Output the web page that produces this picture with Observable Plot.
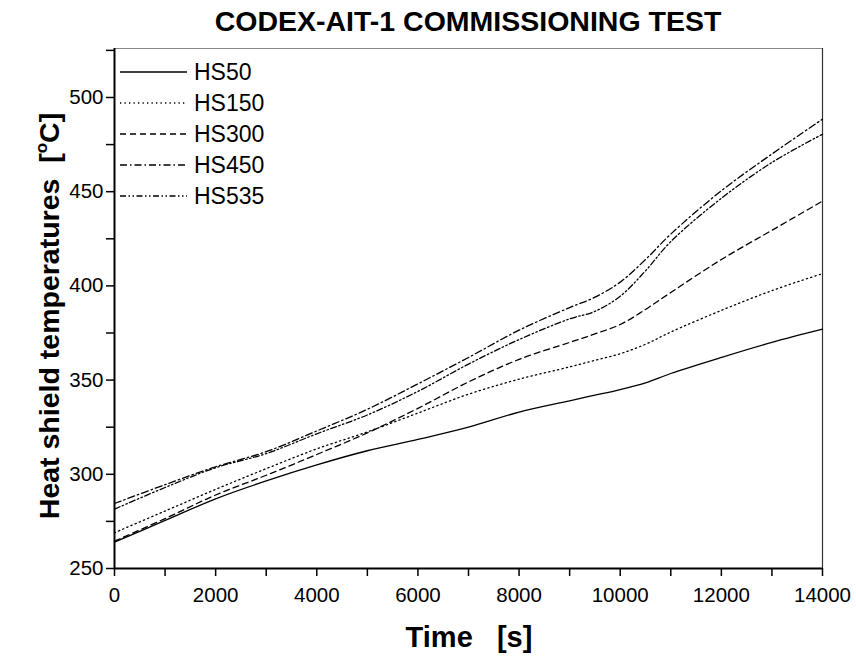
<!DOCTYPE html>
<html><head><meta charset="utf-8">
<script src="https://cdn.jsdelivr.net/npm/d3@7"></script>
<script src="https://cdn.jsdelivr.net/npm/@observablehq/plot@0.6"></script>
<style>
body{margin:0;background:#fff;font-family:"Liberation Sans",Arial,sans-serif;}
#title{width:708px;margin-left:114px;height:40px;line-height:42px;text-align:center;font-weight:bold;font-size:28.5px;color:#000;}
#chart svg{display:block;}
</style></head>
<body>
<div id="title">CODEX-AIT-1 COMMISSIONING TEST</div>
<div id="chart"></div>
<script>
const times = [0,1000,2000,3000,4000,5000,6000,7000,8000,9000,9500,10000,10500,11000,12000,13000,14000];
const seriesNames = ["HS50","HS150","HS300","HS450","HS535"];
const hs50  = [264,275.5,287,296.5,305,312.5,318.5,325,333,339,342,345,348.5,353.5,362,370,377];
const hs150 = [269,280.5,292,303,313.5,322.5,332.5,342.5,350.5,357,360.5,364,369,375.5,387,397.5,406.5];
const hs300 = [264.5,276.5,289,299.5,310.5,322,335,349,361,370,374.5,379.5,387.5,396.5,414,429.5,445];
const hs450 = [284.5,294.5,304,312,323,334.5,348,362,376.5,388.5,394,402,414,427.5,450.5,470,488.5];
const hs535 = [281.5,293,303.5,311,321.5,331.5,344,358.5,371.5,382.5,386.5,394.5,408,423.5,446.5,465.5,480.5];
const seriesValues = [hs50,hs150,hs300,hs450,hs535];
const dashes = ["none","1.3,3.2","6,4","7,3,1.5,3","6,2.5,1.5,2.5,1.5,2.5"];
const xTicks = d3.range(0,14001,1000);
const yTicks = d3.range(250,526,25);
const xDomain = [0,14000];
const yDomain = [250,526];

const rows = [];
seriesNames.forEach((name,i)=>times.forEach((t,j)=>rows.push({series:name,time:t,temp:seriesValues[i][j]})));

const lineMarks = seriesNames.map((name,i)=>Plot.line(rows.filter(r=>r.series===name),{
  x:"time",y:"temp",stroke:"#000",strokeWidth:1.3,strokeDasharray:dashes[i],curve:"catmull-rom"}));

const plot = Plot.plot({
  width:856,height:617,
  marginTop:8,marginLeft:114,marginRight:34,marginBottom:89,
  x:{domain:xDomain},
  y:{domain:yDomain},
  style:{fontFamily:'"Liberation Sans",Arial,sans-serif',fontSize:"20.5px",color:"#000",background:"#fff"},
  marks:[
    Plot.ruleY([yDomain[1]],{stroke:"#888",strokeWidth:1.2}),
    Plot.ruleX([xDomain[1]],{stroke:"#333",strokeWidth:1.2}),
    ...lineMarks,
    Plot.axisX({ticks:xTicks,tickSize:8,tickPadding:11,strokeWidth:1.5,label:null,tickFormat:d=>d%2000===0?String(d):""}),
    Plot.axisY({ticks:yTicks,tickSize:8,tickPadding:3,strokeWidth:1.5,label:null,tickFormat:d=>d%50===0?String(d):""}),
    Plot.ruleX([xDomain[0]],{stroke:"#000",strokeWidth:2}),
    Plot.ruleY([yDomain[0]],{stroke:"#000",strokeWidth:2})
  ]
});
document.getElementById("chart").appendChild(plot);

const svg = d3.select(plot);
// axis titles
svg.append("text").attr("x",469).attr("y",607).attr("text-anchor","middle")
  .attr("font-size",29).attr("font-weight","bold").attr("fill","#000")
  .attr("xml:space","preserve").text("Time   [s]");
const yl = svg.append("text").attr("transform","translate(59,276) rotate(-90)")
  .attr("text-anchor","middle").attr("font-size",28.5).attr("font-weight","bold").attr("fill","#000")
  .attr("xml:space","preserve");
yl.append("tspan").text("Heat shield temperatures  [");
yl.append("tspan").attr("font-size",17).attr("dy",-12).text("o");
yl.append("tspan").attr("dy",12).text("C]");
// legend
const lg = svg.append("g");
seriesNames.forEach((name,i)=>{
  const y = 32 + i*31;
  lg.append("line").attr("x1",120).attr("x2",187).attr("y1",y).attr("y2",y)
    .attr("stroke","#000").attr("stroke-width",1.3).attr("stroke-dasharray",dashes[i]);
  lg.append("text").attr("x",194).attr("y",y).attr("dy","0.36em").attr("text-anchor","start")
    .attr("font-size",23).attr("fill","#000").text(name);
});
</script>
</body></html>
